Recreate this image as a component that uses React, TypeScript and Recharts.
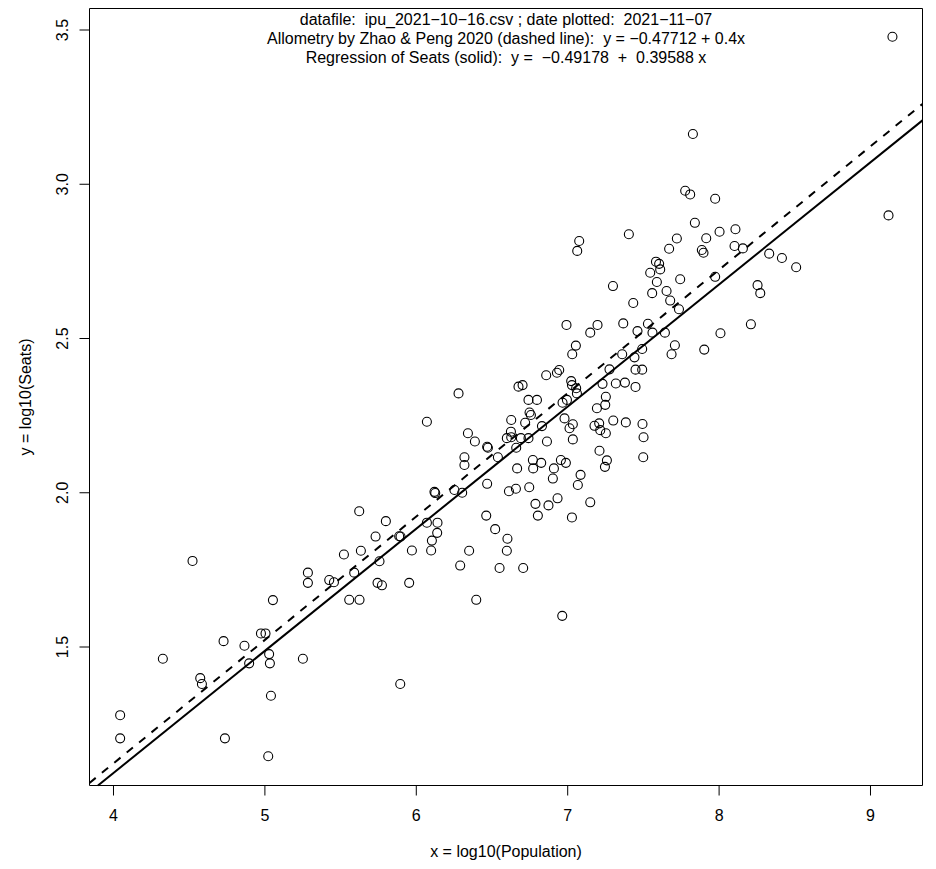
import React from "react";
import { ScatterChart, Scatter, XAxis, YAxis, ReferenceLine, ReferenceArea } from "recharts";

// log10(Population) of each country
const logPopulation = [
  4.522, 5.284, 5.284, 5.053, 4.727, 4.865, 4.974, 5.004, 5.028, 4.896,
  5.033, 4.326, 5.251, 4.573, 4.584, 5.04, 4.044, 4.044, 4.736, 5.022,
  6.279, 6.07, 6.12, 6.125, 6.252, 5.623, 5.799, 6.07, 6.14, 6.138,
  6.103, 6.098, 5.731, 5.887, 5.896, 5.634, 5.971, 5.522, 5.757, 5.59,
  5.425, 5.456, 5.744, 5.773, 5.953, 5.557, 5.625, 6.29, 5.894, 6.675,
  6.702, 6.741, 6.797, 6.966, 6.995, 7.193, 6.627, 6.748, 6.757, 6.719,
  6.979, 7.034, 7.012, 7.177, 7.208, 7.215, 7.252, 6.83, 6.341, 6.625,
  6.387, 6.598, 6.627, 6.691, 6.741, 6.468, 6.473, 6.863, 7.034, 6.66,
  7.21, 6.318, 6.318, 6.539, 6.77, 6.825, 6.955, 6.988, 6.666, 6.772,
  6.909, 7.085, 6.902, 7.067, 6.303, 6.468, 6.746, 6.612, 6.658, 6.933,
  6.787, 6.873, 7.149, 6.462, 6.803, 7.028, 6.521, 6.602, 6.349, 6.598,
  6.55, 6.706, 6.396, 6.964, 7.063, 7.076, 6.992, 7.149, 7.197, 7.054,
  7.03, 6.858, 6.929, 6.944, 7.023, 7.028, 7.056, 7.061, 7.827, 7.776,
  7.809, 7.974, 7.404, 7.84, 7.721, 8.003, 8.108, 7.915, 7.67, 7.886,
  7.897, 8.102, 8.157, 7.583, 7.604, 7.611, 7.545, 7.743, 7.589, 7.974,
  7.299, 8.254, 8.272, 7.558, 7.653, 7.677, 7.433, 7.735, 7.367, 7.53,
  7.461, 7.56, 7.642, 8.21, 8.009, 7.492, 7.36, 7.441, 7.708, 7.686,
  7.902, 7.276, 7.448, 7.492, 7.23, 7.318, 7.378, 7.448, 7.252, 7.248,
  7.301, 7.384, 7.494, 7.501, 7.259, 7.246, 7.499, 9.145, 9.119, 8.331,
  8.415, 8.509,
];

// log10(Seats), same order
const logSeats = [
  1.779, 1.741, 1.708, 1.652, 1.519, 1.504, 1.544, 1.544, 1.477, 1.447,
  1.447, 1.462, 1.462, 1.399, 1.38, 1.342, 1.279, 1.204, 1.204, 1.146,
  2.322, 2.23, 2.003, 1.999, 2.009, 1.94, 1.908, 1.903, 1.903, 1.87,
  1.845, 1.813, 1.858, 1.859, 1.858, 1.812, 1.813, 1.8, 1.778, 1.741,
  1.717, 1.71, 1.708, 1.7, 1.708, 1.653, 1.653, 1.764, 1.38, 2.344,
  2.349, 2.301, 2.301, 2.292, 2.301, 2.274, 2.236, 2.26, 2.252, 2.227,
  2.241, 2.222, 2.209, 2.217, 2.225, 2.203, 2.193, 2.216, 2.193, 2.198,
  2.166, 2.177, 2.18, 2.177, 2.177, 2.149, 2.146, 2.166, 2.173, 2.146,
  2.136, 2.115, 2.09, 2.115, 2.106, 2.097, 2.106, 2.097, 2.079, 2.079,
  2.079, 2.058, 2.046, 2.025, 2.0, 2.029, 2.018, 2.005, 2.013, 1.982,
  1.964, 1.959, 1.969, 1.926, 1.926, 1.92, 1.882, 1.851, 1.812, 1.812,
  1.756, 1.756, 1.653, 1.601, 2.784, 2.816, 2.544, 2.519, 2.544, 2.477,
  2.449, 2.381, 2.389, 2.398, 2.362, 2.349, 2.339, 2.322, 3.163, 2.979,
  2.967, 2.953, 2.838, 2.875, 2.824, 2.846, 2.854, 2.825, 2.791, 2.787,
  2.778, 2.8, 2.792, 2.749, 2.742, 2.724, 2.713, 2.692, 2.683, 2.7,
  2.67, 2.673, 2.647, 2.647, 2.654, 2.623, 2.615, 2.595, 2.549, 2.548,
  2.524, 2.519, 2.519, 2.546, 2.517, 2.466, 2.449, 2.439, 2.478, 2.449,
  2.464, 2.4, 2.399, 2.399, 2.353, 2.354, 2.357, 2.343, 2.311, 2.285,
  2.234, 2.228, 2.223, 2.18, 2.105, 2.084, 2.115, 3.478, 2.899, 2.775,
  2.761, 2.731,
];

const xTicks = [4, 5, 6, 7, 8, 9];
const yTicks = [1.5, 2.0, 2.5, 3.0, 3.5];

const allometry = { intercept: -0.47712, slope: 0.4 };
const regression = { intercept: -0.49178, slope: 0.39588 };

const titleLines = [
  "datafile:  ipu_2021\u221210\u221216.csv ; date plotted:  2021\u221211\u221207",
  "Allometry by Zhao & Peng 2020 (dashed line):  y = \u22120.47712 + 0.4x",
  "Regression of Seats (solid):  y =  \u22120.49178  +  0.39588 x",
];

const X_DOMAIN: [number, number] = [3.8415, 9.3435];
const Y_DOMAIN: [number, number] = [1.0511, 3.5697];
const FONT = "'Liberation Sans', Arial, Helvetica, sans-serif";

const points = logPopulation.map((x, i) => ({ x, y: logSeats[i] }));

// endpoints of y = a + b x clipped to the plot box
function clipLine(a: number, b: number) {
  let x0 = X_DOMAIN[0];
  let x1 = X_DOMAIN[1];
  const yAt = (x: number) => a + b * x;
  if (yAt(x0) < Y_DOMAIN[0]) x0 = (Y_DOMAIN[0] - a) / b;
  if (yAt(x1) > Y_DOMAIN[1]) x1 = (Y_DOMAIN[1] - a) / b;
  return [
    { x: x0, y: yAt(x0) },
    { x: x1, y: yAt(x1) },
  ];
}

const Ring = (props: any) => (
  <circle cx={props.cx} cy={props.cy} r={4.5} fill="none" stroke="#000" strokeWidth={1.1} />
);

const YTick = (props: any) => {
  const { x, y, payload } = props;
  return (
    <text
      x={x}
      y={y}
      transform={`rotate(-90 ${x} ${y})`}
      textAnchor="middle"
      fontSize={16}
      fontFamily={FONT}
      fill="#000"
    >
      {payload.value.toFixed(1)}
    </text>
  );
};

export default function App() {
  return (
    <div style={{ position: "absolute", left: 0, top: 0, width: 936, height: 869, background: "#fff" }}>
      <ScatterChart width={936} height={869} margin={{ top: 8.5, right: 13.5, bottom: 0, left: 0 }}>
        <XAxis
          type="number"
          dataKey="x"
          domain={X_DOMAIN}
          ticks={xTicks}
          allowDataOverflow
          axisLine={false}
          tickLine={{ stroke: "#000" }}
          tickSize={10}
          tickMargin={14}
          height={83.5}
          tick={{ fill: "#000", fontSize: 16, fontFamily: FONT }}
        />
        <YAxis
          type="number"
          dataKey="y"
          domain={Y_DOMAIN}
          ticks={yTicks}
          allowDataOverflow
          axisLine={false}
          tickLine={{ stroke: "#000" }}
          tickSize={10}
          tickMargin={11.5}
          width={89.5}
          tick={<YTick />}
        />
        <ReferenceArea
          x1={X_DOMAIN[0]}
          x2={X_DOMAIN[1]}
          y1={Y_DOMAIN[0]}
          y2={Y_DOMAIN[1]}
          fill="none"
          stroke="#000"
          strokeWidth={1}
          ifOverflow="visible"
        />
        <Scatter data={points} shape={<Ring />} isAnimationActive={false} />
        <ReferenceLine
          segment={clipLine(allometry.intercept, allometry.slope)}
          stroke="#000"
          strokeWidth={2}
          strokeDasharray="8 8"
          ifOverflow="visible"
        />
        <ReferenceLine
          segment={clipLine(regression.intercept, regression.slope)}
          stroke="#000"
          strokeWidth={2}
          ifOverflow="visible"
        />
      </ScatterChart>
      <svg
        width={936}
        height={869}
        style={{ position: "absolute", left: 0, top: 0, pointerEvents: "none" }}
        fontFamily={FONT}
        fontSize={16}
      >
        {titleLines.map((t, i) => (
          <text key={i} x={506} y={25 + i * 19.2} textAnchor="middle" style={{ whiteSpace: "pre" }}>
            {t}
          </text>
        ))}
        <text x={506} y={857} textAnchor="middle">
          x = log10(Population)
        </text>
        <text x={31} y={397} textAnchor="middle" transform="rotate(-90 31 397)">
          y = log10(Seats)
        </text>
      </svg>
    </div>
  );
}
